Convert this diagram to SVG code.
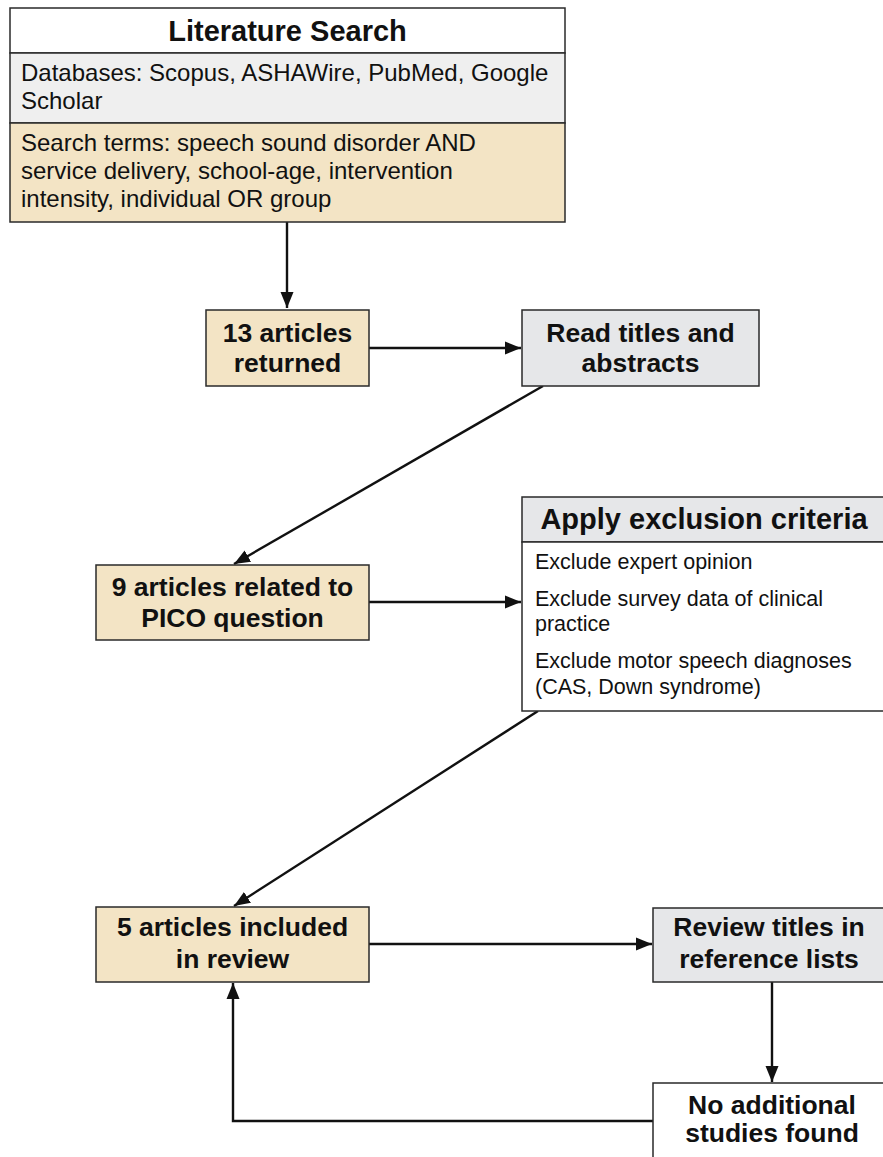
<svg xmlns="http://www.w3.org/2000/svg" width="883" height="1157" viewBox="0 0 883 1157">
<defs>
<style>
.box{stroke:#2a2a2a;stroke-width:1.5}
.beige{fill:#f3e4c5}
.grey{fill:#e6e7e9}
.light{fill:#efefef}
.white{fill:#ffffff}
.t{font-family:"Liberation Sans",Arial,sans-serif;fill:#111}
.title{font-size:29px;font-weight:bold;text-anchor:middle}
.lab{font-size:26.5px;font-weight:bold;text-anchor:middle}
.body{font-size:24px}
.small{font-size:21.5px}
.conn{stroke:#111;stroke-width:2.4;fill:none}
</style>
<marker id="ah" markerUnits="userSpaceOnUse" markerWidth="17" markerHeight="15" refX="16" refY="7.5" orient="auto">
<path d="M0,1 L16,7.5 L0,14 Z" fill="#111"/>
</marker>
</defs>

<g id="connectors">
<path class="conn" d="M287,222 L287,308" marker-end="url(#ah)"/>
<path class="conn" d="M369,348 L521,348" marker-end="url(#ah)"/>
<path class="conn" d="M543,386 L234,564" marker-end="url(#ah)"/>
<path class="conn" d="M369,602 L521,602" marker-end="url(#ah)"/>
<path class="conn" d="M538,711 L234,906" marker-end="url(#ah)"/>
<path class="conn" d="M369,944 L652,944" marker-end="url(#ah)"/>
<path class="conn" d="M772,982 L772,1082" marker-end="url(#ah)"/>
<path class="conn" d="M653,1121 L233,1121 L233,983" marker-end="url(#ah)"/>
</g>

<g id="literature-search">
<rect class="box white" x="10" y="8" width="555" height="45"/>
<rect class="box light" x="10" y="53" width="555" height="70"/>
<rect class="box beige" x="10" y="123" width="555" height="99"/>
<text class="t title" x="287.5" y="41">Literature Search</text>
<text class="t body" x="21" y="81">Databases: Scopus, ASHAWire, PubMed, Google</text>
<text class="t body" x="21" y="109">Scholar</text>
<text class="t body" x="21" y="151">Search terms: speech sound disorder AND</text>
<text class="t body" x="21" y="179">service delivery, school-age, intervention</text>
<text class="t body" x="21" y="207">intensity, individual OR group</text>
</g>

<g id="articles-returned">
<rect class="box beige" x="206" y="310" width="163" height="76"/>
<text class="t lab" x="287.5" y="342">13 articles</text>
<text class="t lab" x="287.5" y="372">returned</text>
</g>

<g id="read-titles">
<rect class="box grey" x="522" y="310" width="237" height="76"/>
<text class="t lab" x="640.5" y="342">Read titles and</text>
<text class="t lab" x="640.5" y="372">abstracts</text>
</g>

<g id="pico-articles">
<rect class="box beige" x="96" y="565" width="273" height="75"/>
<text class="t lab" x="232.5" y="596">9 articles related to</text>
<text class="t lab" x="232.5" y="627">PICO question</text>
</g>

<g id="exclusion-criteria">
<rect class="box grey" x="522" y="497" width="364" height="45"/>
<rect class="box white" x="522" y="542" width="364" height="169"/>
<text class="t title" x="704" y="529">Apply exclusion criteria</text>
<text class="t small" x="535" y="569">Exclude expert opinion</text>
<text class="t small" x="535" y="606">Exclude survey data of clinical</text>
<text class="t small" x="535" y="631">practice</text>
<text class="t small" x="535" y="668">Exclude motor speech diagnoses</text>
<text class="t small" x="535" y="694">(CAS, Down syndrome)</text>
</g>

<g id="included-articles">
<rect class="box beige" x="96" y="907" width="273" height="75"/>
<text class="t lab" x="232.5" y="936">5 articles included</text>
<text class="t lab" x="232.5" y="968">in review</text>
</g>

<g id="reference-lists">
<rect class="box grey" x="653" y="908" width="232" height="74"/>
<text class="t lab" x="769" y="936">Review titles in</text>
<text class="t lab" x="769" y="968">reference lists</text>
</g>

<g id="no-additional">
<rect class="box white" x="653" y="1083" width="240" height="90"/>
<text class="t lab" x="772" y="1114">No additional</text>
<text class="t lab" x="772" y="1142">studies found</text>
</g>
</svg>
